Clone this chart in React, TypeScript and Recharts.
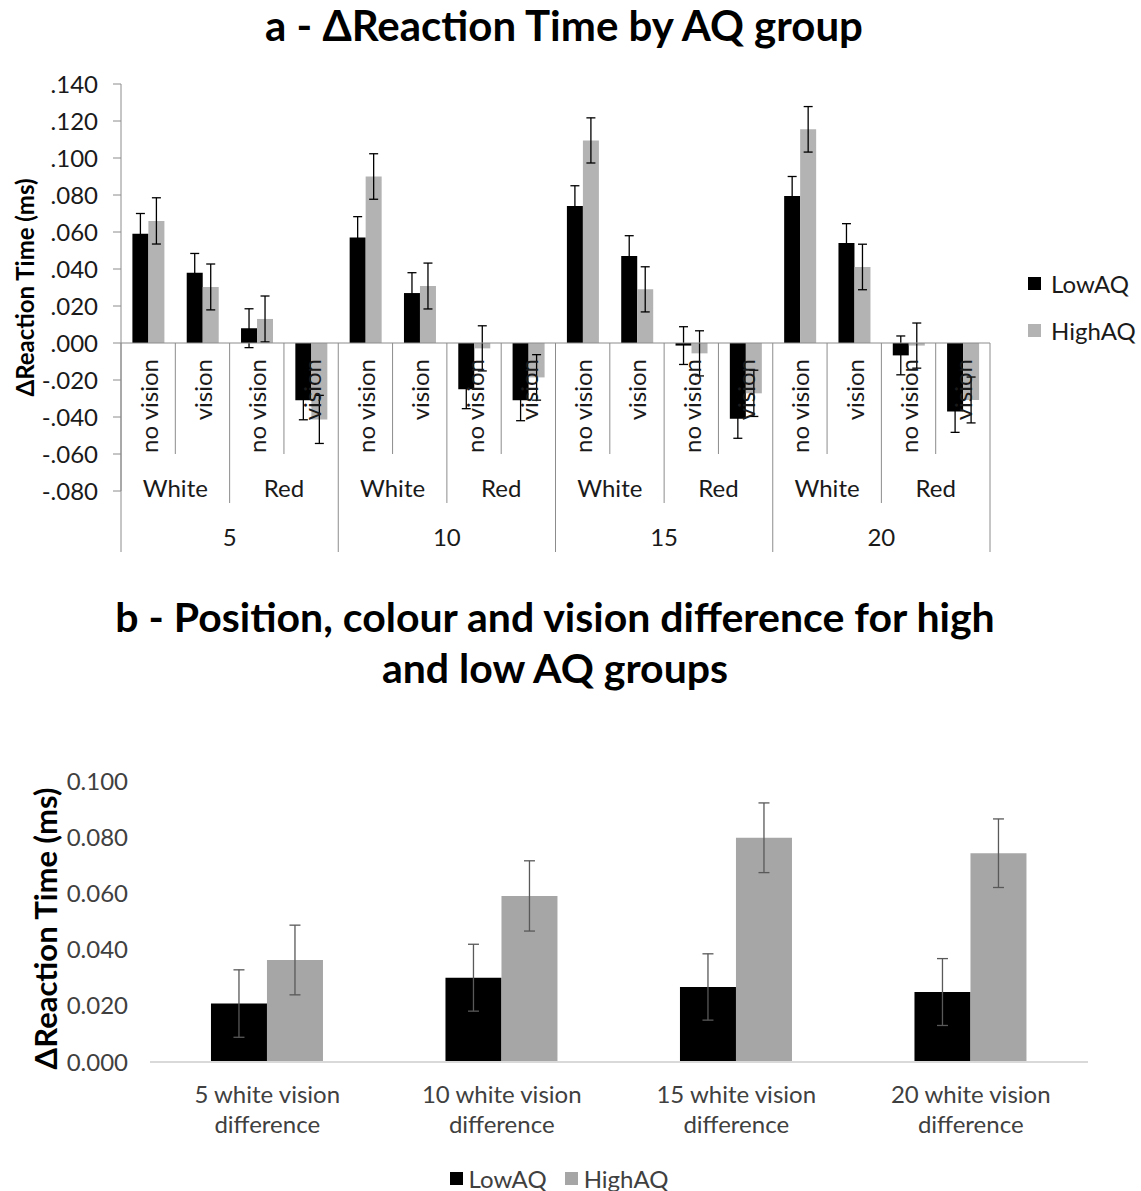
import React from 'react';
import { BarChart, Bar, XAxis, YAxis, ErrorBar, ReferenceLine, Legend } from 'recharts';

// ---- Panel a: ΔRT by position / colour / vision ----
const positions = ['5', '10', '15', '20'];
const colours = ['White', 'Red'];
const visions = ['no vision', 'vision'];

// values follow the nesting position > colour > vision
const lowAQ = [0.059, 0.038, 0.008, -0.031, 0.057, 0.027, -0.025, -0.031, 0.074, 0.047, -0.0014, -0.041, 0.0795, 0.054, -0.0067, -0.037];
const lowAQErr = [0.011, 0.0104, 0.0105, 0.0105, 0.0113, 0.011, 0.0105, 0.011, 0.011, 0.011, 0.0102, 0.0105, 0.0105, 0.0105, 0.0105, 0.0113];
const highAQ = [0.066, 0.0303, 0.013, -0.0413, 0.090, 0.0308, -0.0029, -0.0186, 0.1095, 0.029, -0.0056, -0.0272, 0.1155, 0.0411, -0.0014, -0.0308];
const highAQErr = [0.0125, 0.0124, 0.0124, 0.013, 0.0123, 0.0124, 0.0122, 0.0123, 0.0122, 0.0122, 0.0122, 0.0125, 0.0123, 0.0123, 0.0122, 0.0124];
const ticksA = [-0.08, -0.06, -0.04, -0.02, 0, 0.02, 0.04, 0.06, 0.08, 0.1, 0.12, 0.14];

// ---- Panel b: white vision difference per position ----
const diffLabels = ['5 white vision difference', '10 white vision difference', '15 white vision difference', '20 white vision difference'];
const lowAQDiff = [0.0208, 0.030, 0.0267, 0.0249];
const lowAQDiffErr = [0.012, 0.0119, 0.0118, 0.0119];
const highAQDiff = [0.0363, 0.0591, 0.0798, 0.0743];
const highAQDiffErr = [0.0124, 0.0125, 0.0124, 0.0122];
const ticksB = [0, 0.02, 0.04, 0.06, 0.08, 0.1];

const seriesOrder = ['LowAQ', 'HighAQ'];

const FONT = 'Lato, "Open Sans", sans-serif';
const BLACK = '#000000';
const GREY_A = '#b3b3b3';
const GREY_B = '#a6a6a6';
const AXIS_GREY = '#8c8c8c';
const TEXT_A = '#1a1a1a';
const TEXT_B = '#404040';

type RowA = { key: string; position: string; colour: string; vision: string; low: number; lowErr: number; high: number; highErr: number };
const dataA: RowA[] = [];
positions.forEach((p) =>
  colours.forEach((c) =>
    visions.forEach((v) => {
      const i = dataA.length;
      dataA.push({ key: `${p}|${c}|${v}`, position: p, colour: c, vision: v, low: lowAQ[i], lowErr: lowAQErr[i], high: highAQ[i], highErr: highAQErr[i] });
    })
  )
);

const dataB = diffLabels.map((label, i) => ({
  label,
  low: lowAQDiff[i],
  lowErr: lowAQDiffErr[i],
  high: highAQDiff[i],
  highErr: highAQDiffErr[i],
}));

const fmtA = (v: number) => (v < 0 ? '-' : '') + Math.abs(v).toFixed(3).replace(/^0/, '');
const fmtB = (v: number) => v.toFixed(3);

// depth of the category dividers below the zero line, per nesting level
const VISION_DEPTH = 111;
const COLOUR_DEPTH = 160;
const POSITION_DEPTH = 209;

// Zero line plus the three-level category axis (vision / colour / position)
function NestedCategoryAxis(props: any) {
  const { x1, x2, y1 } = props;
  const n = dataA.length;
  const band = (x2 - x1) / n;
  const perColour = visions.length;
  const perPos = colours.length * visions.length;
  const items: React.ReactNode[] = [];
  items.push(<line key="zero" x1={x1} x2={x2} y1={y1} y2={y1} stroke={AXIS_GREY} strokeWidth={1} />);
  for (let i = 0; i <= n; i++) {
    const x = x1 + i * band;
    const depth = i % perPos === 0 ? POSITION_DEPTH : i % perColour === 0 ? COLOUR_DEPTH : VISION_DEPTH;
    items.push(<line key={`d${i}`} x1={x} x2={x} y1={y1} y2={y1 + depth} stroke={AXIS_GREY} strokeWidth={1} />);
  }
  dataA.forEach((d, i) => {
    const cx = x1 + (i + 0.5) * band;
    const ty = y1 + 16;
    items.push(
      <text key={`v${i}`} x={cx} y={ty} transform={`rotate(-90 ${cx} ${ty})`} textAnchor="end" dominantBaseline="central" fontSize={24} fill={TEXT_A} fontFamily={FONT}>
        {d.vision}
      </text>
    );
    if (i % perColour === 0) {
      const gx = x1 + (i + perColour / 2) * band;
      items.push(
        <text key={`c${i}`} x={gx} y={y1 + 144} textAnchor="middle" dominantBaseline="central" fontSize={24} fill={TEXT_A} fontFamily={FONT}>
          {d.colour}
        </text>
      );
    }
    if (i % perPos === 0) {
      const px = x1 + (i + perPos / 2) * band;
      items.push(
        <text key={`p${i}`} x={px} y={y1 + 193} textAnchor="middle" dominantBaseline="central" fontSize={24} fill={TEXT_A} fontFamily={FONT}>
          {d.position}
        </text>
      );
    }
  });
  return <g>{items}</g>;
}

function AxisTitle(props: any) {
  const { viewBox, caption, size, dx, dy = 0 } = props;
  const cx = viewBox.x + dx;
  const cy = viewBox.y + viewBox.height / 2 + dy;
  return (
    <text x={cx} y={cy} transform={`rotate(-90 ${cx} ${cy})`} textAnchor="middle" dominantBaseline="central" fontSize={size} fontWeight={700} fill="#000" fontFamily={FONT}>
      {caption}
    </text>
  );
}

function DiffTick(props: any) {
  const { x, y, payload } = props;
  const words = String(payload.value).split(' ');
  const last = words.pop();
  return (
    <text x={x} y={y} textAnchor="middle" fontSize={24} fill={TEXT_B} fontFamily={FONT}>
      <tspan x={x} dy={0}>{words.join(' ')}</tspan>
      <tspan x={x} dy={30}>{last}</tspan>
    </text>
  );
}

function LegendItems(props: any) {
  const { payload, vertical, gap } = props;
  const items = [...(payload || [])].sort((a: any, b: any) => seriesOrder.indexOf(a.value) - seriesOrder.indexOf(b.value));
  return (
    <div style={{ display: 'flex', flexDirection: vertical ? 'column' : 'row', gap, justifyContent: 'center', fontFamily: FONT, fontSize: 24, color: vertical ? TEXT_A : TEXT_B }}>
      {items.map((p: any) => (
        <div key={p.value} style={{ display: 'flex', alignItems: 'center', height: 28 }}>
          <span style={{ display: 'inline-block', width: 13, height: 13, background: p.color, marginRight: vertical ? 10 : 6 }} />
          <span>{p.value}</span>
        </div>
      ))}
    </div>
  );
}

export default function App() {
  return (
    <div style={{ position: 'absolute', left: 0, top: 0, width: 1141, height: 1191, background: '#fff', fontFamily: FONT }}>
      <div style={{ position: 'absolute', left: 0, top: -2, width: 1128, height: 54, display: 'flex', alignItems: 'center', justifyContent: 'center', fontSize: 42, fontWeight: 700, color: '#000', whiteSpace: 'nowrap' }}>
        a - ΔReaction Time by AQ group
      </div>

      <div style={{ position: 'absolute', left: 0, top: 0 }}>
        <BarChart width={1141} height={570} data={dataA} margin={{ top: 84, right: 151, bottom: 79, left: 0 }} barCategoryGap="21%" barGap={0} style={{ fontFamily: FONT }}>
          <XAxis dataKey="key" hide />
          <YAxis
            width={121}
            domain={[-0.08, 0.14]}
            ticks={ticksA}
            interval={0}
            tickFormatter={fmtA}
            tick={{ fontSize: 24, fill: TEXT_A, fontFamily: FONT }}
            tickSize={8}
            tickMargin={15}
            axisLine={{ stroke: AXIS_GREY }}
            tickLine={{ stroke: AXIS_GREY }}
            label={<AxisTitle caption="ΔReaction Time (ms)" size={24} dx={24} />}
          />
          <Bar dataKey="low" name="LowAQ" fill={BLACK} isAnimationActive={false}>
            <ErrorBar dataKey="lowErr" width={4.5} stroke={BLACK} strokeWidth={1.3} direction="y" />
          </Bar>
          <Bar dataKey="high" name="HighAQ" fill={GREY_A} isAnimationActive={false}>
            <ErrorBar dataKey="highErr" width={4.5} stroke={BLACK} strokeWidth={1.3} direction="y" />
          </Bar>
          <ReferenceLine y={0} ifOverflow="visible" shape={NestedCategoryAxis} />
          <Legend
            layout="vertical"
            align="center"
            verticalAlign="middle"
            wrapperStyle={{ left: 1028, top: 269, width: 113 }}
            content={(p: any) => <LegendItems payload={p.payload} vertical gap={19} />}
          />
        </BarChart>
      </div>

      <div style={{ position: 'absolute', left: 0, top: 591, width: 1110, textAlign: 'center', fontSize: 41, fontWeight: 700, lineHeight: '51px', color: '#000' }}>
        b - Position, colour and vision difference for high
        <br />
        and low AQ groups
      </div>

      <div style={{ position: 'absolute', left: 0, top: 700 }}>
        <BarChart width={1141} height={491} data={dataB} margin={{ top: 81, right: 53, bottom: 59, left: 0 }} barCategoryGap="26%" barGap={0} style={{ fontFamily: FONT }}>
          <XAxis dataKey="label" height={70} axisLine={{ stroke: '#d9d9d9', strokeWidth: 2 }} tickLine={false} tickSize={0} tickMargin={41} interval={0} tick={<DiffTick />} />
          <YAxis
            width={150}
            domain={[0, 0.1]}
            ticks={ticksB}
            interval={0}
            tickFormatter={fmtB}
            tick={{ fontSize: 24, fill: TEXT_B, fontFamily: FONT }}
            axisLine={false}
            tickLine={false}
            tickSize={0}
            tickMargin={22}
            label={<AxisTitle caption="ΔReaction Time (ms)" size={31} dx={45} dy={7} />}
          />
          <Bar dataKey="low" name="LowAQ" fill={BLACK} isAnimationActive={false}>
            <ErrorBar dataKey="lowErr" width={5.5} stroke="#595959" strokeWidth={1.3} direction="y" />
          </Bar>
          <Bar dataKey="high" name="HighAQ" fill={GREY_B} isAnimationActive={false}>
            <ErrorBar dataKey="highErr" width={5.5} stroke="#595959" strokeWidth={1.3} direction="y" />
          </Bar>
          <Legend
            layout="vertical"
            align="center"
            verticalAlign="middle"
            wrapperStyle={{ left: 0, top: 464, width: 1118 }}
            content={(p: any) => <LegendItems payload={p.payload} gap={18} />}
          />
        </BarChart>
      </div>
    </div>
  );
}
